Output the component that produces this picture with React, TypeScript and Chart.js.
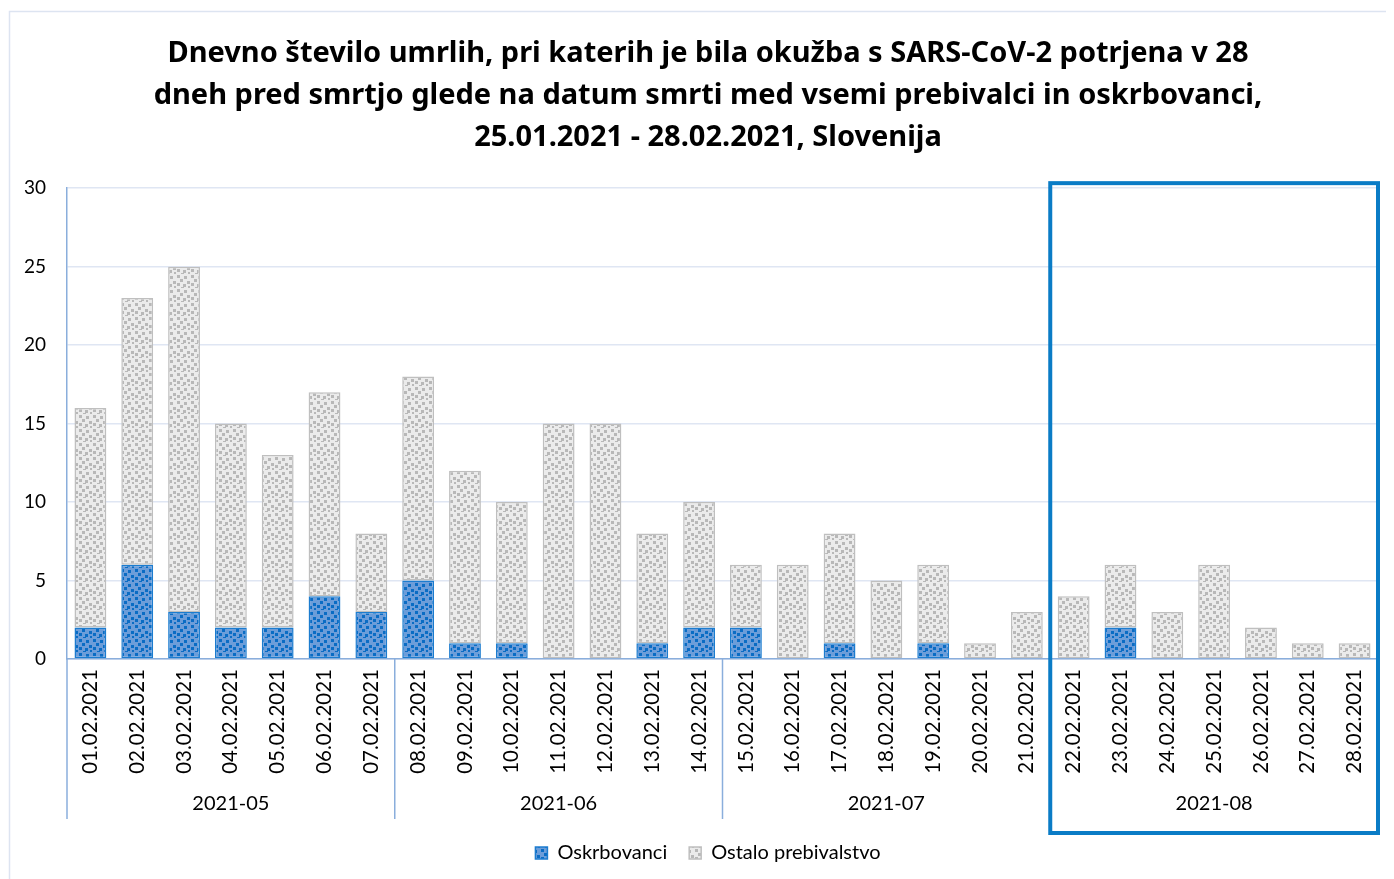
import React, { useEffect, useRef } from "react";
import { Chart, registerables } from "chart.js";

Chart.register(...registerables);

const categories = [
  "01.02.2021", "02.02.2021", "03.02.2021", "04.02.2021", "05.02.2021", "06.02.2021", "07.02.2021",
  "08.02.2021", "09.02.2021", "10.02.2021", "11.02.2021", "12.02.2021", "13.02.2021", "14.02.2021",
  "15.02.2021", "16.02.2021", "17.02.2021", "18.02.2021", "19.02.2021", "20.02.2021", "21.02.2021",
  "22.02.2021", "23.02.2021", "24.02.2021", "25.02.2021", "26.02.2021", "27.02.2021", "28.02.2021",
];
const groupLabels = ["2021-05", "2021-06", "2021-07", "2021-08"];
const groupSizes = [7, 7, 7, 7];
const oskrbovanci = [2, 6, 3, 2, 2, 4, 3, 5, 1, 1, 0, 0, 1, 2, 2, 0, 1, 0, 1, 0, 0, 0, 2, 0, 0, 0, 0, 0];
const ostalo = [14, 17, 22, 13, 11, 13, 5, 13, 11, 9, 15, 15, 7, 8, 4, 6, 7, 5, 5, 1, 3, 4, 4, 3, 6, 2, 1, 1];
const yTicks = [0, 5, 10, 15, 20, 25, 30];
const titleLines = [
  "Dnevno število umrlih, pri katerih je bila okužba s SARS-CoV-2 potrjena v 28",
  "dneh pred smrtjo glede na datum smrti med vsemi prebivalci in oskrbovanci,",
  "25.01.2021 - 28.02.2021, Slovenija",
];
const seriesNames = ["Oskrbovanci", "Ostalo prebivalstvo"];

const FONT = "Lato";
const TITLE_FONT = "'Noto Sans'";

function makePattern(bg: string, fg: string): CanvasPattern | string {
  const c = document.createElement("canvas");
  c.width = 14;
  c.height = 14;
  const ctx = c.getContext("2d");
  if (!ctx) return bg;
  ctx.fillStyle = bg;
  ctx.fillRect(0, 0, 14, 14);
  ctx.fillStyle = fg;
  const pts = [
    [1, 1], [8, 2], [4, 5], [11, 7], [1, 9], [7, 10], [12, 12], [5, 13],
  ];
  for (const [x, y] of pts) ctx.fillRect(x, y, 3, 3);
  const p = ctx.createPattern(c, "repeat");
  return p || bg;
}

const decorPlugin = {
  id: "decor",
  beforeDraw(chart: any) {
    const ctx = chart.ctx;
    ctx.save();
    ctx.strokeStyle = "#dde4f1";
    ctx.lineWidth = 1.5;
    ctx.strokeRect(1.5, 3.5, chart.width + 20, chart.height + 20);
    ctx.restore();
  },
  afterDraw(chart: any) {
    const ctx = chart.ctx;
    const xs = chart.scales.x;
    const area = chart.chartArea;
    const step = xs.getPixelForValue(1) - xs.getPixelForValue(0);
    const boundaries: number[] = [];
    let idx = 0;
    boundaries.push(area.left);
    for (let g = 0; g < groupSizes.length; g++) {
      idx += groupSizes[g];
      boundaries.push(g === groupSizes.length - 1 ? area.right : xs.getPixelForValue(idx) - step / 2);
    }
    ctx.save();
    ctx.strokeStyle = "#8aaedc";
    ctx.lineWidth = 1.5;
    for (const b of boundaries) {
      ctx.beginPath();
      ctx.moveTo(b, area.bottom);
      ctx.lineTo(b, area.bottom + 160);
      ctx.stroke();
    }
    ctx.fillStyle = "#000";
    ctx.font = `20px ${FONT}`;
    ctx.textAlign = "center";
    ctx.textBaseline = "middle";
    for (let g = 0; g < groupLabels.length; g++) {
      ctx.fillText(groupLabels[g], (boundaries[g] + boundaries[g + 1]) / 2, area.bottom + 145);
    }
    // highlight rectangle around the last group
    ctx.strokeStyle = "#0a7cc6";
    ctx.lineWidth = 4;
    const l = boundaries[groupLabels.length - 1];
    const r = area.right;
    ctx.strokeRect(l, area.top - 5, r - l, area.bottom + 174 - (area.top - 5));
    ctx.restore();
  },
};

export default function App() {
  const ref = useRef<HTMLCanvasElement | null>(null);
  useEffect(() => {
    if (!ref.current) return;
    const blue = makePattern("#6c9dd9", "#0a6cc4");
    const gray = makePattern("#ebebeb", "#b8b8b8");
    const chart = new Chart(ref.current, {
      type: "bar",
      data: {
        labels: categories,
        datasets: [
          {
            label: seriesNames[0],
            data: oskrbovanci,
            backgroundColor: blue as any,
            borderColor: "#1c7ccf",
            borderWidth: 1.5,
            borderSkipped: false,
            barPercentage: 0.68,
            categoryPercentage: 1,
          },
          {
            label: seriesNames[1],
            data: ostalo,
            backgroundColor: gray as any,
            borderColor: "#bfbfbf",
            borderWidth: 1.5,
            borderSkipped: false,
            barPercentage: 0.68,
            categoryPercentage: 1,
          },
        ],
      },
      options: {
        animation: false,
        responsive: false,
        layout: { padding: { left: 0, right: 0, top: 0, bottom: 6 } },
        plugins: {
          title: {
            display: true,
            text: titleLines,
            color: "#000",
            font: { family: TITLE_FONT, size: 29, weight: "bold", lineHeight: 1.45 },
            padding: { top: 25, bottom: 29 },
          },
          legend: {
            position: "bottom",
            labels: {
              color: "#000",
              font: { family: FONT, size: 20 },
              boxWidth: 12,
              boxHeight: 12,
              padding: 22,
            },
          },
          tooltip: { enabled: false },
        },
        scales: {
          x: {
            stacked: true,
            grid: { display: false, drawTicks: false },
            border: { display: true, color: "#8aaedc", width: 1.5 },
            ticks: {
              color: "#000",
              font: { family: FONT, size: 20.5 },
              maxRotation: 90,
              minRotation: 90,
              autoSkip: false,
              padding: 10,
            },
            afterFit(scale: any) {
              scale.height = 162;
            },
          },
          y: {
            stacked: true,
            min: 0,
            max: 30,
            afterBuildTicks(scale: any) {
              scale.ticks = yTicks.map((v) => ({ value: v }));
            },
            grid: { color: "#dfe6f3", lineWidth: 1.5, drawTicks: false },
            border: { display: true, color: "#8aaedc", width: 1.5 },
            ticks: {
              color: "#000",
              font: { family: FONT, size: 19 },
              padding: 21,
            },
            afterFit(scale: any) {
              scale.width = 59;
            },
          },
          spacer: {
            type: "linear",
            position: "right",
            display: true,
            grid: { display: false, drawTicks: false },
            border: { display: false },
            ticks: { display: false },
            afterFit(scale: any) {
              scale.width = 30;
            },
          },
        },
      },
      plugins: [decorPlugin],
    });
    return () => chart.destroy();
  }, []);
  return (
    <div style={{ width: 1386, height: 871, overflow: "hidden" }}>
      <canvas ref={ref} width={1400} height={871} style={{ display: "block" }} />
    </div>
  );
}
